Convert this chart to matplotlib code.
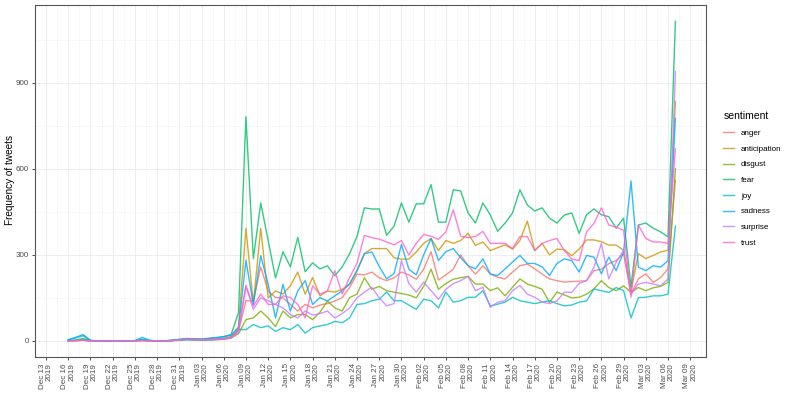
import matplotlib
matplotlib.use("Agg")
import matplotlib.pyplot as plt
import pandas as pd

plt.rcParams['font.family'] = ['Liberation Sans', 'DejaVu Sans']

dates = pd.date_range('2019-12-16', '2020-03-07', freq='D')
sentiments = ['anger', 'anticipation', 'disgust', 'fear', 'joy', 'sadness', 'surprise', 'trust']
colors = ['#F8766D', '#CD9600', '#7CAE00', '#00BE67', '#00BFC4', '#00A9FF', '#C77CFF', '#FF61CC']

anger = [0,1,3,0,0,0,0,0,0,0,2,0,0,0,1,3,5,4,3,4,5,6,12,
         35,140,139,258,174,151,150,127,104,127,115,125,130,139,151,186,233,230,240,220,210,220,240,230,215,250,
         311,212,230,250,300,262,233,262,233,222,216,240,262,268,251,233,216,210,205,207,208,210,245,250,269,280,
         304,163,216,234,204,221,251,560]
anticipation = [0,1,3,0,0,0,0,0,0,0,2,0,0,0,1,3,6,5,4,5,6,8,15,
                50,393,130,393,150,174,163,192,240,163,221,157,174,170,180,198,245,304,322,322,322,290,285,285,310,340,
                357,315,350,340,350,375,333,345,315,325,335,320,350,418,315,340,300,320,318,297,320,352,352,346,334,334,
                316,175,304,287,298,310,316,835]
disgust = [0,0,2,0,0,0,0,0,0,0,1,0,0,0,1,2,4,3,3,3,4,5,10,
           25,74,80,104,80,50,104,80,92,92,74,100,139,115,104,151,163,220,180,190,175,170,165,160,150,190,
           250,180,200,215,220,225,198,198,175,185,157,187,216,198,190,180,134,170,160,150,152,163,181,210,186,175,
           192,169,186,175,185,190,204,600]
fear = [1,3,8,1,0,0,0,0,0,0,3,1,0,0,2,5,8,7,6,8,10,14,22,
        99,782,287,481,350,219,311,258,361,241,272,251,262,227,258,304,364,464,460,460,368,400,481,414,478,478,
        545,414,414,527,523,446,411,481,439,382,411,446,527,474,453,464,428,411,439,446,375,440,460,440,433,393,
        428,190,404,411,393,380,363,1115]
joy = [3,10,18,1,0,0,0,0,0,0,6,1,0,0,1,3,4,4,3,4,5,8,12,
       40,39,57,46,52,33,46,39,57,27,46,52,57,68,63,80,127,130,140,145,170,140,140,125,110,145,
       140,115,170,135,140,152,152,175,122,128,135,152,140,135,130,135,140,130,122,125,135,139,181,175,169,186,
       175,80,151,152,157,157,163,400]
sadness = [4,12,22,2,0,0,0,0,0,1,12,2,0,0,2,5,8,7,6,9,12,15,20,
           45,281,127,297,197,80,197,104,174,210,127,151,139,157,174,198,245,304,310,260,216,235,336,250,230,300,
           357,280,311,322,290,262,251,286,233,228,251,275,298,270,270,258,228,270,286,280,240,298,292,234,292,245,
           310,558,257,245,262,257,280,776]
surprise = [0,1,2,0,0,0,0,0,0,0,1,0,0,0,1,3,5,4,3,4,5,6,10,
            30,190,110,150,140,127,115,92,80,104,90,95,104,80,95,115,150,170,187,150,122,130,280,200,170,205,
            175,145,180,200,210,225,175,187,117,135,140,175,193,163,152,135,130,139,170,169,200,210,257,340,216,274,
            316,163,198,204,198,192,216,940]
trust = [0,1,2,0,0,0,0,0,0,0,1,0,0,0,1,3,6,5,4,5,6,7,12,
         40,193,121,163,127,127,157,151,127,80,192,163,174,245,163,221,270,368,360,355,345,335,350,300,340,371,
         365,354,380,457,365,360,364,382,340,340,340,322,364,364,315,340,350,357,315,285,280,380,410,464,404,396,
         386,152,404,357,345,345,340,670]

series = [anger, anticipation, disgust, fear, joy, sadness, surprise, trust]

y_ticks = [0, 300, 600, 900]
tick_dates = pd.date_range('2019-12-13', '2020-03-09', freq='3D')

fig = plt.figure(figsize=(7.93, 3.97), dpi=100)
ax = fig.add_axes([0.044, 0.101, 0.846, 0.886])

for name, vals, c in zip(sentiments, series, colors):
    ax.plot(dates, vals, color=c, lw=1.0, alpha=0.8, label=name)

pad = pd.Timedelta(days=4.1)
ax.set_xlim(dates[0] - pad, dates[-1] + pad)
ax.set_ylim(-56, 1171)

ax.set_yticks(y_ticks)
ax.set_yticks([150, 450, 750, 1050], minor=True)
ax.set_xticks(tick_dates)
half = pd.Timedelta(hours=36)
minor = list(tick_dates[:-1] + half) + [tick_dates[0] - half, tick_dates[-1] + half]
ax.set_xticks(minor, minor=True)
ax.set_xticklabels([d.strftime('%b %d') + '\n' + d.strftime('%Y') for d in tick_dates],
                   rotation=90, fontsize=5.8, color='#4D4D4D', ha='center', va='top',
                   multialignment='right', linespacing=0.95)
ax.tick_params(axis='y', labelsize=5.8, colors='#333333', length=2.5, width=0.6, labelcolor='#4D4D4D', pad=2)
ax.tick_params(axis='x', length=2.5, width=0.6, colors='#333333', labelcolor='#4D4D4D', pad=2)
ax.tick_params(which='minor', length=0)

ax.grid(which='major', color='#EBEBEB', lw=0.6)
ax.grid(which='minor', color='#F4F4F4', lw=0.4)
ax.set_axisbelow(True)
for s in ax.spines.values():
    s.set_color('#555555')
    s.set_linewidth(0.8)

ax.set_ylabel('Frequency of tweets', fontsize=7.2, color='black', va='center')
ax.yaxis.set_label_coords(10.5 / 793, 1 - 180 / 397, transform=fig.transFigure)

leg = fig.legend(loc='center left', bbox_to_anchor=(0.903, 0.549), frameon=False,
                 title='sentiment', fontsize=5.8, title_fontsize=7.5,
                 handlelength=1.3, handletextpad=0.9, labelspacing=1.0, alignment='left')
for h in leg.get_lines():
    h.set_linewidth(1.0)

fig.savefig('out.png', dpi=100)
